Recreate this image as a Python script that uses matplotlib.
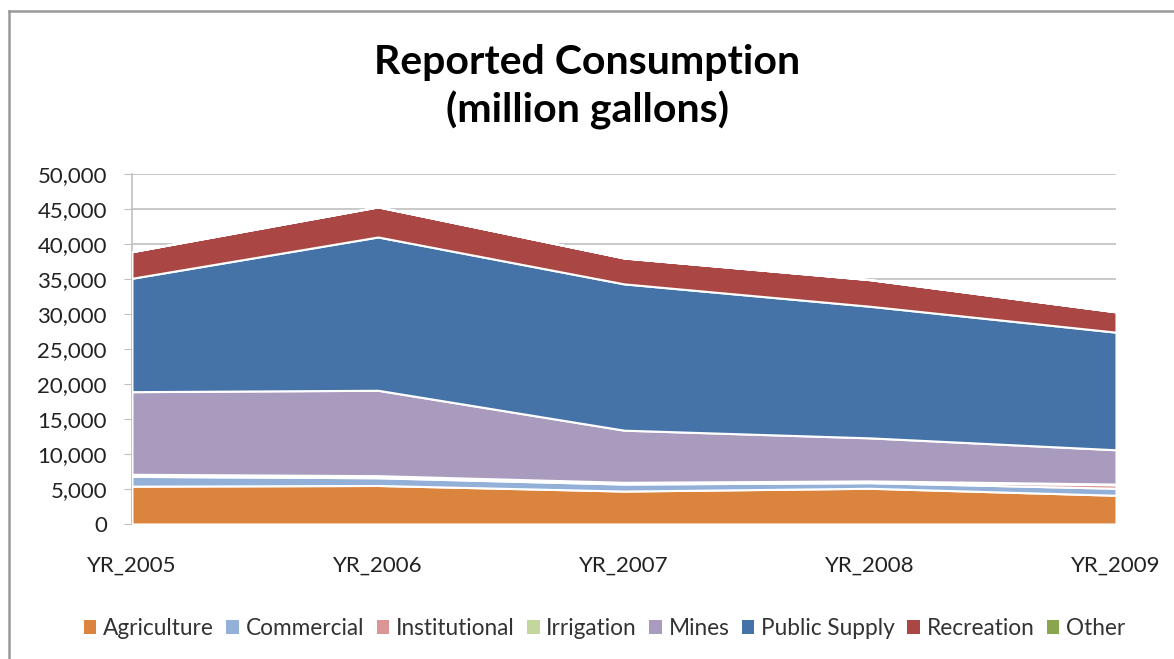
import matplotlib.pyplot as plt
from matplotlib.lines import Line2D
from matplotlib.ticker import FuncFormatter

plt.rcParams['font.family'] = ['Lato', 'DejaVu Sans']

# data (million gallons)
years = ['YR_2005', 'YR_2006', 'YR_2007', 'YR_2008', 'YR_2009']
agriculture = [5400, 5500, 4700, 5100, 4100]
commercial = [1400, 1100, 1000, 800, 1000]
institutional = [200, 200, 150, 150, 500]
irrigation = [100, 100, 100, 100, 100]
mines = [11800, 12200, 7450, 6150, 4900]
public_supply = [16200, 21900, 20900, 18800, 16800]
recreation = [3800, 4300, 3700, 3800, 2900]
other = [0, 0, 0, 0, 0]

names = ['Agriculture', 'Commercial', 'Institutional', 'Irrigation',
         'Mines', 'Public Supply', 'Recreation', 'Other']
colors = ['#DB843D', '#93B0D8', '#D99694', '#C3D69B',
          '#A99BBD', '#4572A7', '#AA4643', '#89A54E']

fig = plt.figure(figsize=(11.74, 6.59), dpi=100)
ax = fig.add_axes([0.1124, 0.2049, 0.8382, 0.5311])

x = list(range(len(years)))
polys = ax.stackplot(x, agriculture, commercial, institutional, irrigation,
                     mines, public_supply, recreation, other,
                     colors=colors, edgecolor='white', linewidth=1.5,
                     labels=names, zorder=3)

ax.set_xlim(0, 4)
ax.set_ylim(0, 50000)
ax.set_yticks(range(0, 50001, 5000))
ax.yaxis.set_major_formatter(FuncFormatter(lambda v, p: f'{int(v):,}'))
ax.set_xticks(x)
ax.set_xticklabels(years)
ax.grid(axis='y', color='#BFBFBF', linewidth=1.2, zorder=0)
ax.tick_params(axis='x', length=0, pad=23, labelsize=16, colors='#222222')
ax.tick_params(axis='y', length=6, color='#BFBFBF', pad=12, labelsize=16, colors='#222222')
for s in ['top', 'right']:
    ax.spines[s].set_visible(False)
ax.spines['left'].set_color('#BFBFBF')
ax.spines['bottom'].set_color('#BFBFBF')
ax.spines['left'].set_linewidth(1.2)
ax.spines['bottom'].set_linewidth(1.2)

fig.text(0.5, 0.868, 'Reported Consumption\n(million gallons)', ha='center', va='center',
         fontsize=29.5, fontweight='bold', linespacing=1.3)

leg = fig.legend(polys, names, loc='center', bbox_to_anchor=(0.515, 0.046), ncol=8,
                 frameon=False, fontsize=16.3, handlelength=0.55, handleheight=0.55,
                 handletextpad=0.3, columnspacing=0.55)
for h in leg.legend_handles:
    h.set_edgecolor('none')
for t in leg.get_texts():
    t.set_color('#333333')

# chart border: only top and left edges show in the crop
fig.add_artist(Line2D([0.0077, 0.0077], [0, 0.9833], transform=fig.transFigure,
                      color='#999999', linewidth=1.8))
fig.add_artist(Line2D([0.0077, 1], [0.9833, 0.9833], transform=fig.transFigure,
                      color='#999999', linewidth=1.8))

fig.savefig('out.png', dpi=100)
